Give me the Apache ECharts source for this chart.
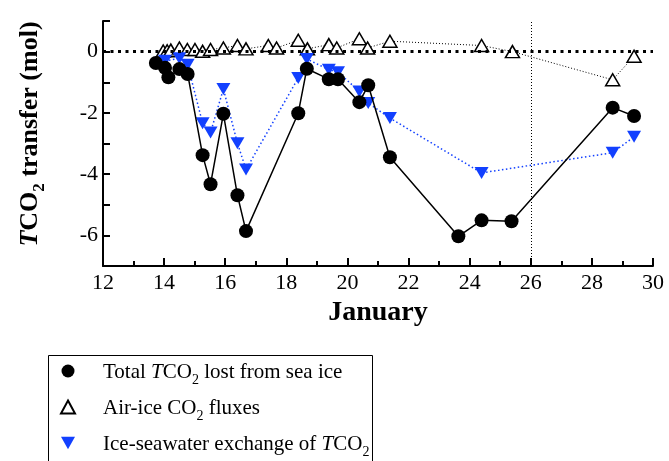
<!DOCTYPE html>
<html>
<head>
<meta charset="utf-8">
<script src="https://cdn.jsdelivr.net/npm/echarts@6/dist/echarts.min.js"></script>
<style>
  html, body { margin: 0; padding: 0; background: #fff; }
  #chart { width: 669px; height: 461px; }
</style>
</head>
<body>
<div id="chart"></div>
<script>
const FONT = "Liberation Serif";
const BLUE = "#1240ff";

// Total TCO2 lost from sea ice
const totalX = [13.73, 14.03, 14.14, 14.5, 14.77, 15.26, 15.52, 15.94, 16.4, 16.68, 18.39, 18.67, 19.39, 19.69, 20.39, 20.68, 21.39, 23.63, 24.39, 25.37, 28.68, 29.38];
const totalY = [-0.37, -0.53, -0.84, -0.57, -0.73, -3.38, -4.33, -2.03, -4.69, -5.86, -2.01, -0.56, -0.9, -0.9, -1.65, -1.1, -3.45, -6.03, -5.51, -5.54, -1.83, -2.1];

// Air-ice CO2 fluxes
const airX = [13.97, 14.1, 14.22, 14.5, 14.76, 15.01, 15.26, 15.52, 15.94, 16.4, 16.68, 17.41, 17.68, 18.39, 18.69, 19.39, 19.65, 20.39, 20.66, 21.39, 24.39, 25.4, 28.68, 29.38];
const airY = [0.02, 0.03, 0.05, 0.12, 0.07, 0.07, 0.01, 0.07, 0.12, 0.2, 0.09, 0.2, 0.12, 0.37, 0.09, 0.23, 0.12, 0.42, 0.12, 0.34, 0.2, 0.0, -0.92, -0.15];

// Ice-seawater exchange of TCO2
const iceX = [14.03, 14.5, 14.77, 15.26, 15.52, 15.94, 16.4, 16.68, 18.39, 18.67, 19.39, 19.69, 20.39, 20.68, 21.39, 24.39, 28.68, 29.38];
const iceY = [-0.3, -0.22, -0.43, -2.34, -2.64, -1.22, -2.99, -3.85, -0.86, -0.24, -0.59, -0.67, -1.3, -1.68, -2.17, -3.96, -3.3, -2.78];

const legendNames = ["Total TCO2 lost from sea ice", "Air-ice CO2 fluxes", "Ice-seawater exchange of TCO2"];
const legendRich = [
  "{n|Total }{i|T}{n|CO}{s|2}{n| lost from sea ice}",
  "{n|Air-ice CO}{s|2}{n| fluxes}",
  "{n|Ice-seawater exchange of }{i|T}{n|CO}{s|2}",
];

const zip = (xs, ys) => xs.map((x, i) => [x, ys[i]]);

const chart = echarts.init(document.getElementById("chart"));

const legendTextRich = {
  n: { fontFamily: FONT, fontSize: 21, color: "#000", lineHeight: 24, verticalAlign: "bottom" },
  i: { fontFamily: FONT, fontSize: 21, fontStyle: "italic", color: "#000", lineHeight: 24, verticalAlign: "bottom" },
  s: { fontFamily: FONT, fontSize: 14, color: "#000", lineHeight: 14, verticalAlign: "bottom", padding: [0, 0, -4, 0] },
};

chart.setOption({
  animation: false,
  grid: { left: 103, right: 16, top: 21, bottom: 195 },
  xAxis: {
    type: "value",
    min: 12,
    max: 30,
    interval: 2,
    name: "January",
    nameLocation: "middle",
    nameGap: 33,
    nameTextStyle: { fontFamily: FONT, fontSize: 28, fontWeight: "bold", color: "#000" },
    axisLine: { onZero: false, lineStyle: { color: "#000", width: 2 } },
    axisTick: { inside: true, length: 8, lineStyle: { color: "#000", width: 2 } },
    minorTick: { show: true, splitNumber: 2, length: 5, lineStyle: { color: "#000", width: 2 } },
    axisLabel: { fontFamily: FONT, fontSize: 22, color: "#000", margin: 6 },
    splitLine: { show: false },
  },
  yAxis: {
    type: "value",
    min: -7,
    max: 1,
    interval: 1,
    axisLine: { show: true, onZero: false, lineStyle: { color: "#000", width: 2 } },
    axisTick: { show: true, inside: true, length: 7, lineStyle: { color: "#000", width: 2 } },
    axisLabel: {
      fontFamily: FONT, fontSize: 22, color: "#000", margin: 5,
      formatter: (v) => (v % 2 === 0 ? String(v) : ""),
    },
    splitLine: { show: false },
  },
  graphic: [
    {
      type: "text",
      x: 28,
      y: 134,
      rotation: Math.PI / 2,
      style: {
        text: "{i|T}{b|CO}{s|2}{b| transfer (mol)}",
        align: "center",
        verticalAlign: "middle",
        rich: {
          b: { fontFamily: FONT, fontSize: 26, fontWeight: "bold", fill: "#000", lineHeight: 30, verticalAlign: "bottom" },
          i: { fontFamily: FONT, fontSize: 26, fontWeight: "bold", fontStyle: "italic", fill: "#000", lineHeight: 30, verticalAlign: "bottom" },
          s: { fontFamily: FONT, fontSize: 17, fontWeight: "bold", fill: "#000", lineHeight: 17, verticalAlign: "bottom", padding: [0, 0, -5, 0] },
        },
      },
    },
    {
      type: "rect",
      shape: { x: 48.5, y: 355.5, width: 324, height: 130 },
      style: { fill: "none", stroke: "#000", lineWidth: 1 },
      silent: true,
    },
  ],
  legend: {
    orient: "vertical",
    left: 60,
    top: 362,
    padding: 0,
    itemWidth: 14,
    itemHeight: 13,
    itemGap: 11,
    data: [
      { name: legendNames[0], icon: "circle" },
      { name: legendNames[1], icon: "triangle" },
      { name: legendNames[2], icon: "path://M0,0 L10,0 L5,9 Z" },
    ],
    formatter: (name) => legendRich[legendNames.indexOf(name)],
    textStyle: { padding: [0, 0, 0, 23], rich: legendTextRich },
  },
  series: [
    {
      type: "line",
      data: [],
      silent: true,
      z: 1,
      markLine: {
        silent: true,
        symbol: "none",
        label: { show: false },
        data: [
          { yAxis: 0, lineStyle: { color: "#000", width: 3, type: [3, 4.5] } },
          { xAxis: 26, lineStyle: { color: "#000", width: 1, type: [1, 2] } },
        ],
      },
    },
    {
      name: legendNames[1],
      type: "line",
      data: zip(airX, airY),
      symbol: "triangle",
      symbolSize: [14, 12],
      z: 3,
      lineStyle: { color: "#000", width: 1, type: [1, 2] },
      itemStyle: { color: "#fff", borderColor: "#000", borderWidth: 1.5 },
    },
    {
      name: legendNames[2],
      type: "line",
      data: zip(iceX, iceY),
      symbol: "triangle",
      symbolRotate: 180,
      symbolSize: [14, 12],
      z: 4,
      lineStyle: { color: BLUE, width: 1.5, type: [1.5, 2.5] },
      itemStyle: { color: BLUE },
    },
    {
      name: legendNames[0],
      type: "line",
      data: zip(totalX, totalY),
      symbol: "circle",
      symbolSize: 14,
      z: 5,
      lineStyle: { color: "#000", width: 1.5 },
      itemStyle: { color: "#000" },
    },
  ],
});
</script>
</body>
</html>
